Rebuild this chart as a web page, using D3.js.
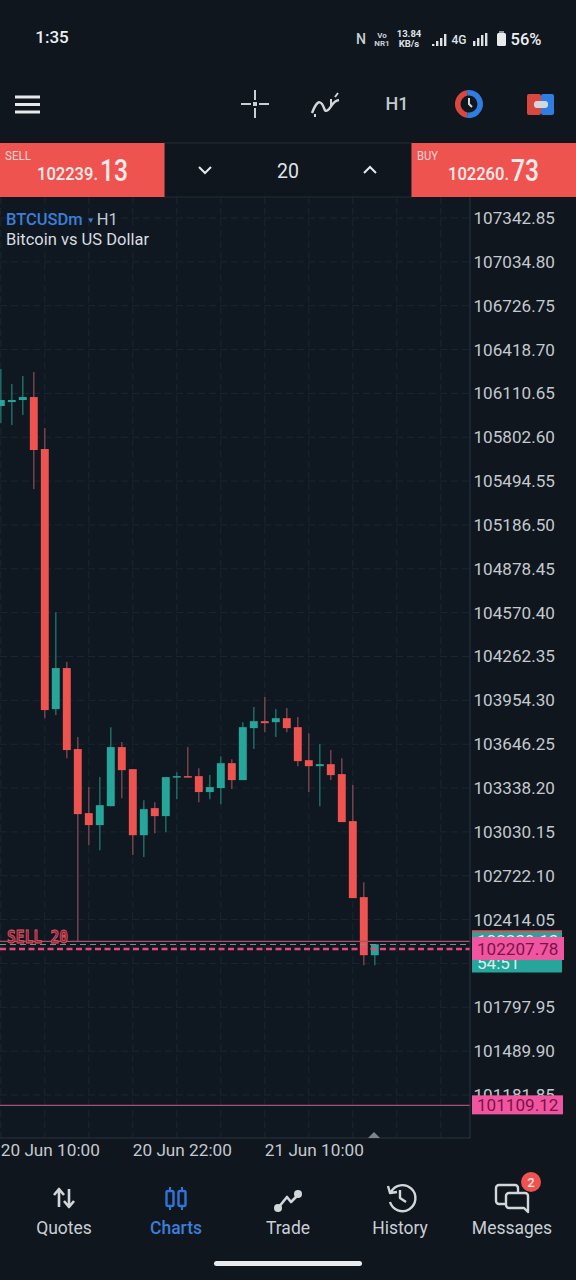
<!DOCTYPE html>
<html>
<head>
<meta charset="utf-8">
<script src="https://cdn.jsdelivr.net/npm/d3@7"></script>
<style>
  html, body { margin: 0; padding: 0; background: #0f161e; }
  svg { display: block; font-family: Roboto, sans-serif; }
</style>
</head>
<body>
<div id="wrapper"></div>
<script>
// candles, left to right
const hours = ["20 10","20 11","20 12","20 13","20 14","20 15","20 16","20 17","20 18","20 19","20 20","20 21",
    "20 22","20 23","21 00","21 01","21 02","21 03","21 04","21 05","21 06","21 07","21 08","21 09",
    "21 10","21 11","21 12","21 13","21 14","21 15","21 16","21 17","21 18","21 19","21 20"];
const opens = [106022,106050,106064,106085,105720,103893,104181,103612,103162,103078,103211,103626,
    103471,103007,103197,103141,103415,103422,103422,103310,103338,103513,103394,103759,
    103808,103801,103829,103766,103534,103492,103506,103436,103106,102572,102164];
const highs = [106282,106176,106233,106261,105867,104574,104223,103696,103345,103415,103766,103661,
    103471,103253,103239,103415,103450,103626,103478,103429,103562,103541,103801,103907,
    103977,103893,103900,103837,103724,103647,103605,103548,103359,102677,102241];
const lows = [105902,105888,105959,105439,103829,103851,103548,102263,102937,102902,103211,103267,
    102867,102853,103021,103028,103260,103415,103239,103260,103225,103331,103394,103612,
    103731,103696,103731,103492,103310,103211,103394,103099,102565,102094,102094];
const closes = [106064,106064,106085,105713,103886,104181,103605,103155,103078,103218,103626,103464,
    103007,103190,103141,103415,103422,103415,103310,103345,103513,103394,103766,103808,
    103794,103829,103759,103527,103492,103506,103429,103099,102565,102164,102241];

const priceTicks = [107342.85,107034.80,106726.75,106418.70,106110.65,105802.60,105494.55,105186.50,
    104878.45,104570.40,104262.35,103954.30,103646.25,103338.20,103030.15,102722.10,102414.05,
    102106.00,101797.95,101489.90,101181.85];
const timeTicks = ["20 10","20 22","21 10"];
const timeLabels = ["20 Jun 10:00","20 Jun 22:00","21 Jun 10:00"];
const gridEvery = 4;

const bid = 102239.13;
const ask = 102260.73;
const orderPrice = 102207.78;
const stopPrice = 101109.12;

const candles = hours.map((h, i) => ({
    h, open: opens[i], high: highs[i], low: lows[i], close: closes[i]
}));

const bg = "#0f161e";
const chartBg = "#0f1821";
const gridColor = "#1b2630";
const red = "#ef5350";
const teal = "#26a69a";
const pink = "#f0569f";
const textColor = "#c4c9ce";

const svg = d3.select("#wrapper").append("svg")
    .attr("width", 576)
    .attr("height", 1280);

svg.append("rect").attr("width", 576).attr("height", 1280).attr("fill", bg);

const plot = { left: 0, right: 470, top: 197, bottom: 1138 };

svg.append("rect")
    .attr("x", plot.left).attr("y", plot.top)
    .attr("width", plot.right - plot.left).attr("height", plot.bottom - plot.top)
    .attr("fill", chartBg);

svg.append("clipPath").attr("id", "plotClip").append("rect")
    .attr("x", plot.left).attr("y", plot.top)
    .attr("width", plot.right - plot.left).attr("height", plot.bottom - plot.top);

// scales
const yScale = d3.scaleLinear()
    .domain([priceTicks[0], priceTicks[priceTicks.length - 1]])
    .range([218, 1095]);

const step = 11;
const xScale = d3.scaleBand()
    .domain(hours)
    .range([-4.7, -4.7 + step * hours.length])
    .paddingInner(0.28)
    .paddingOuter(0.14);
const xMid = h => xScale(h) + xScale.bandwidth() / 2;

// grid
const grid = svg.append("g").attr("clip-path", "url(#plotClip)");

grid.selectAll(".h-grid")
    .data(priceTicks)
    .enter().append("line")
    .attr("x1", plot.left).attr("x2", plot.right)
    .attr("y1", d => yScale(d)).attr("y2", d => yScale(d))
    .attr("stroke", gridColor)
    .attr("stroke-dasharray", "7 4");

const gridX = [];
for (let i = 0; i * gridEvery * step < plot.right; i++) gridX.push(xMid(hours[0]) + i * gridEvery * step);

grid.selectAll(".v-grid")
    .data(gridX)
    .enter().append("line")
    .attr("x1", d => d).attr("x2", d => d)
    .attr("y1", plot.top).attr("y2", plot.bottom)
    .attr("stroke", gridColor)
    .attr("stroke-dasharray", "7 4");

// candles
const bars = svg.append("g").attr("clip-path", "url(#plotClip)")
    .selectAll("g")
    .data(candles)
    .enter().append("g");

bars.append("line")
    .attr("x1", d => xMid(d.h)).attr("x2", d => xMid(d.h))
    .attr("y1", d => yScale(d.high)).attr("y2", d => yScale(d.low))
    .attr("stroke", d => d.close >= d.open ? "#1c7269" : "#7d454e")
    .attr("stroke-width", 1.4);

bars.append("rect")
    .attr("x", d => xScale(d.h))
    .attr("width", xScale.bandwidth())
    .attr("y", d => yScale(Math.max(d.open, d.close)))
    .attr("height", d => Math.max(1.5, Math.abs(yScale(d.open) - yScale(d.close))))
    .attr("fill", d => d.close >= d.open ? teal : red);

// price lines
const lines = svg.append("g");
lines.append("line")
    .attr("x1", plot.left).attr("x2", plot.right)
    .attr("y1", yScale(ask)).attr("y2", yScale(ask))
    .attr("stroke", "#a8506a").attr("stroke-width", 1.2);
lines.append("line")
    .attr("x1", plot.left).attr("x2", plot.right)
    .attr("y1", yScale(bid)).attr("y2", yScale(bid))
    .attr("stroke", "#7f8c8e").attr("stroke-width", 1.2)
    .attr("stroke-dasharray", "6 4");
lines.append("line")
    .attr("x1", plot.left).attr("x2", plot.right)
    .attr("y1", yScale(orderPrice)).attr("y2", yScale(orderPrice))
    .attr("stroke", "#e8487f").attr("stroke-width", 2.4)
    .attr("stroke-dasharray", "6 3.5");
lines.append("line")
    .attr("x1", plot.left).attr("x2", plot.right)
    .attr("y1", yScale(stopPrice)).attr("y2", yScale(stopPrice))
    .attr("stroke", "#b04a78").attr("stroke-width", 1.2);

svg.append("text")
    .attr("x", 7).attr("y", 943)
    .attr("font-family", "'DejaVu Sans Mono', monospace")
    .attr("font-size", 17).attr("font-weight", 700)
    .attr("textLength", 61).attr("lengthAdjust", "spacingAndGlyphs")
    .attr("fill", "#6a2a3a").attr("stroke", "#e8505f").attr("stroke-width", 0.9)
    .text("SELL 20");

// axes
const yAxis = svg.append("g")
    .attr("transform", `translate(${plot.right},0)`)
    .call(d3.axisRight(yScale).tickValues(priceTicks).tickFormat(d3.format(".2f")).tickSize(0).tickPadding(3.5));
yAxis.select(".domain").remove();
yAxis.selectAll("text")
    .attr("fill", textColor)
    .attr("font-family", "Roboto, sans-serif")
    .attr("font-size", 17.1);

const xAxis = svg.append("g")
    .attr("transform", `translate(0,${plot.bottom})`)
    .call(d3.axisBottom(xScale).tickValues(timeTicks)
        .tickFormat((d, i) => timeLabels[i]).tickSize(0).tickPadding(5.5));
xAxis.select(".domain").remove();
xAxis.selectAll("text")
    .attr("text-anchor", "start")
    .attr("fill", textColor)
    .attr("font-family", "Roboto, sans-serif")
    .attr("font-size", 17.2);

// frame on the price and time side
svg.append("line").attr("x1", plot.right).attr("x2", plot.right)
    .attr("y1", plot.top).attr("y2", plot.bottom).attr("stroke", "#2b353f");
svg.append("line").attr("x1", 0).attr("x2", plot.right)
    .attr("y1", plot.bottom).attr("y2", plot.bottom).attr("stroke", "#2b353f");
svg.append("path").attr("d", "M368 1138L374 1132L380 1138Z").attr("fill", "#7b838b");

// price tags on the axis
const tag = (y, h, w, fill) => svg.append("rect")
    .attr("x", 472).attr("y", y).attr("width", w).attr("height", h).attr("fill", fill);
const tagText = (txt, y, fill, x = 477) => svg.append("text")
    .attr("x", x).attr("y", y).attr("dy", "0.35em")
    .attr("font-size", 17.1).attr("fill", fill).text(txt);

tag(yScale(bid) - 14, 42, 90, teal);
tag(yScale(bid) - 14, 2, 90, "#d9505c");
tagText(d3.format(".2f")(bid), yScale(bid) - 3, "#e8f2f0");
tagText("54:51", yScale(bid) + 19, "#d8f0ec");
tag(yScale(orderPrice) - 12, 23, 92, pink);
tagText(d3.format(".2f")(orderPrice), yScale(orderPrice), "#7a1248");
tag(yScale(stopPrice) - 10, 19, 91, pink);
tagText(d3.format(".2f")(stopPrice), yScale(stopPrice), "#7a1248");

// symbol caption
const caption = svg.append("text").attr("x", 6).attr("y", 225).attr("font-size", 16.5);
caption.append("tspan").attr("fill", "#3b7fd9").attr("font-weight", 500).text("BTCUSDm");
caption.append("tspan").attr("fill", "#3b7fd9").attr("font-size", 8).attr("dx", 4).attr("dy", -2).text("▼");
caption.append("tspan").attr("fill", textColor).attr("dx", 2).attr("dy", 2).text("H1");
svg.append("text").attr("x", 6).attr("y", 245).attr("font-size", 16.5)
    .attr("fill", "#dadde0").text("Bitcoin vs US Dollar");

// status bar
const label = (txt, x, y, size, fill, opts = {}) => {
    const t = svg.append("text")
        .attr("x", x).attr("y", y).attr("dy", "0.35em")
        .attr("text-anchor", opts.anchor || "middle")
        .attr("font-size", size).attr("fill", fill)
        .attr("font-weight", opts.weight || 400)
        .text(txt);
    if (opts.len) t.attr("textLength", opts.len).attr("lengthAdjust", "spacingAndGlyphs");
    return t;
};

label("1:35", 52, 37, 17, "#eceff1", { weight: 500 });
label("N", 361, 39, 14, "#c9ced3", { weight: 500, len: 10 });
label("Vo", 382, 35, 8, "#c9ced3", { weight: 700 });
label("NR1", 382, 43, 8, "#c9ced3", { weight: 700 });
label("13.84", 409, 34, 9.5, "#dfe2e5", { weight: 700 });
label("KB/s", 409, 44, 9.5, "#dfe2e5", { weight: 700 });
label("4G", 459, 39, 13, "#dfe2e5", { weight: 500, len: 15 });
label("56%", 526, 39, 16.5, "#eceff1", { weight: 500 });

const signal = svg.append("g").attr("fill", "#dfe2e5");
[[432, 44, 2], [436, 41, 5], [440, 38, 8], [444, 34, 12], [473, 41, 5], [477, 38, 8], [481, 35, 11], [485, 33, 13]]
    .forEach(b => signal.append("rect").attr("x", b[0]).attr("y", b[1]).attr("width", 2.4).attr("height", b[2]));
svg.append("rect").attr("x", 497).attr("y", 33).attr("width", 9).attr("height", 13).attr("rx", 1.5).attr("fill", "#e8eaec");
svg.append("rect").attr("x", 499).attr("y", 31).attr("width", 5).attr("height", 2).attr("fill", "#8f959b");

// toolbar
[97, 104.5, 112].forEach(y => svg.append("rect")
    .attr("x", 15).attr("y", y - 1.5).attr("width", 25).attr("height", 3).attr("fill", "#e6e8ea"));

svg.append("path")
    .attr("d", "M241 104h10M259 104h10M255 90v10M255 108v10M254 103h2v2h-2z")
    .attr("fill", "none").attr("stroke", "#c9ced3").attr("stroke-width", 2);

svg.append("path")
    .attr("d", "M312 113c4-10 7-13 10-9s2 9 6 6 4-9 11-10")
    .attr("fill", "none").attr("stroke", "#d3d6d9").attr("stroke-width", 2.4);
svg.append("path")
    .attr("d", "M315 117v-3M331 107v-8M335 97l3-4")
    .attr("fill", "none").attr("stroke", "#d3d6d9").attr("stroke-width", 2);

label("H1", 397, 104, 18, textColor, { weight: 500 });

const arc = d3.arc().innerRadius(8.5).outerRadius(14);
svg.append("path").attr("transform", "translate(469,104)")
    .attr("d", arc({ startAngle: Math.PI * 1.05, endAngle: Math.PI * 1.95 })).attr("fill", "#d9483f");
svg.append("path").attr("transform", "translate(469,104)")
    .attr("d", arc({ startAngle: -Math.PI * 0.05, endAngle: Math.PI * 1.05 })).attr("fill", "#2f7de0");
svg.append("path").attr("d", "M469 98v6l3 3").attr("fill", "none").attr("stroke", "#d3d6d9").attr("stroke-width", 2);

svg.append("rect").attr("x", 527).attr("y", 94).attr("width", 14).attr("height", 21).attr("rx", 2).attr("fill", "#d9483f");
svg.append("rect").attr("x", 541).attr("y", 94).attr("width", 13).attr("height", 21).attr("rx", 2).attr("fill", "#2f7de0");
svg.append("rect").attr("x", 534).attr("y", 101).attr("width", 14).attr("height", 7).attr("rx", 3).attr("fill", "#d5d8db");

// order strip
svg.append("rect").attr("x", 164).attr("y", 143).attr("width", 248).attr("height", 54)
    .attr("fill", bg).attr("stroke", "#232c36");
svg.append("rect").attr("x", 0).attr("y", 143).attr("width", 164.5).attr("height", 54).attr("fill", red);
svg.append("rect").attr("x", 411.5).attr("y", 143).attr("width", 164.5).attr("height", 54).attr("fill", red);

label("SELL", 5, 155, 13, "#f9d8d6", { anchor: "start", len: 26 });
label("102239.", 37, 173, 19, "#fdeceb", { anchor: "start", len: 61, weight: 500 });
label("13", 100, 170, 31, "#fdeceb", { anchor: "start", len: 28, weight: 500 });
label("BUY", 417, 155, 13, "#f9d8d6", { anchor: "start", len: 21 });
label("102260.", 448, 173, 19, "#fdeceb", { anchor: "start", len: 61, weight: 500 });
label("73", 511, 170, 31, "#fdeceb", { anchor: "start", len: 28, weight: 500 });
label("20", 288, 171, 19.5, "#dfe2e5");
svg.append("path").attr("d", "M199 167l6 6l6-6M364 173l6-6l6 6")
    .attr("fill", "none").attr("stroke", "#e6e8ea").attr("stroke-width", 2);

// bottom navigation
const navNames = ["Quotes", "Charts", "Trade", "History", "Messages"];
const navX = d3.scalePoint().domain(navNames).range([64, 512]);
navNames.forEach(n => label(n, navX(n), 1228, 17.5, n === "Charts" ? "#3b7fd9" : "#c9ced3",
    { weight: n === "Charts" ? 500 : 400 }));

const navIcon = (d, color, width) => svg.append("path")
    .attr("d", d).attr("fill", "none").attr("stroke", color)
    .attr("stroke-width", width).attr("stroke-linejoin", "round");

navIcon("M59 1207v-17M54 1195l5-6l5 6M69 1189v17M64 1201l5 6l5-6", "#d3d6d9", 2.6);

navIcon("M170 1187v23M182 1187v23", "#2f74d8", 2);
svg.selectAll(".candle-icon").data([170, 182]).enter().append("rect")
    .attr("x", d => d - 3.5).attr("y", 1191).attr("width", 7).attr("height", 15).attr("rx", 1.5)
    .attr("fill", bg).attr("stroke", "#2f74d8").attr("stroke-width", 2.4);

navIcon("M278 1208l9-11l4 5l7-7l0 0", "#d3d6d9", 2.6);
svg.selectAll(".trade-dot").data([[278, 1208, 4], [298, 1194, 4]]).enter().append("circle")
    .attr("cx", d => d[0]).attr("cy", d => d[1]).attr("r", d => d[2]).attr("fill", "#d3d6d9");

navIcon("M391 1192a13 13 0 1 1 -1 10M388 1186l2 7l7-1M400 1190v8l6 4", "#d3d6d9", 2.4);

navIcon("M506 1204h-7a3 3 0 0 1 -3-3v-13a3 3 0 0 1 3-3h16a3 3 0 0 1 3 3v5", "#d3d6d9", 2.4);
navIcon("M509 1193h16a3 3 0 0 1 3 3v16l-4-4h-15a3 3 0 0 1 -3-3v-9a3 3 0 0 1 3-3z", "#d3d6d9", 2.4);
svg.append("circle").attr("cx", 531).attr("cy", 1182).attr("r", 10).attr("fill", red);
label("2", 531, 1182, 13, "#fbe4e2", { weight: 500 });

svg.append("rect").attr("x", 214).attr("y", 1261).attr("width", 148).attr("height", 5).attr("rx", 2.5).attr("fill", "#e8eaed");
</script>
</body>
</html>
